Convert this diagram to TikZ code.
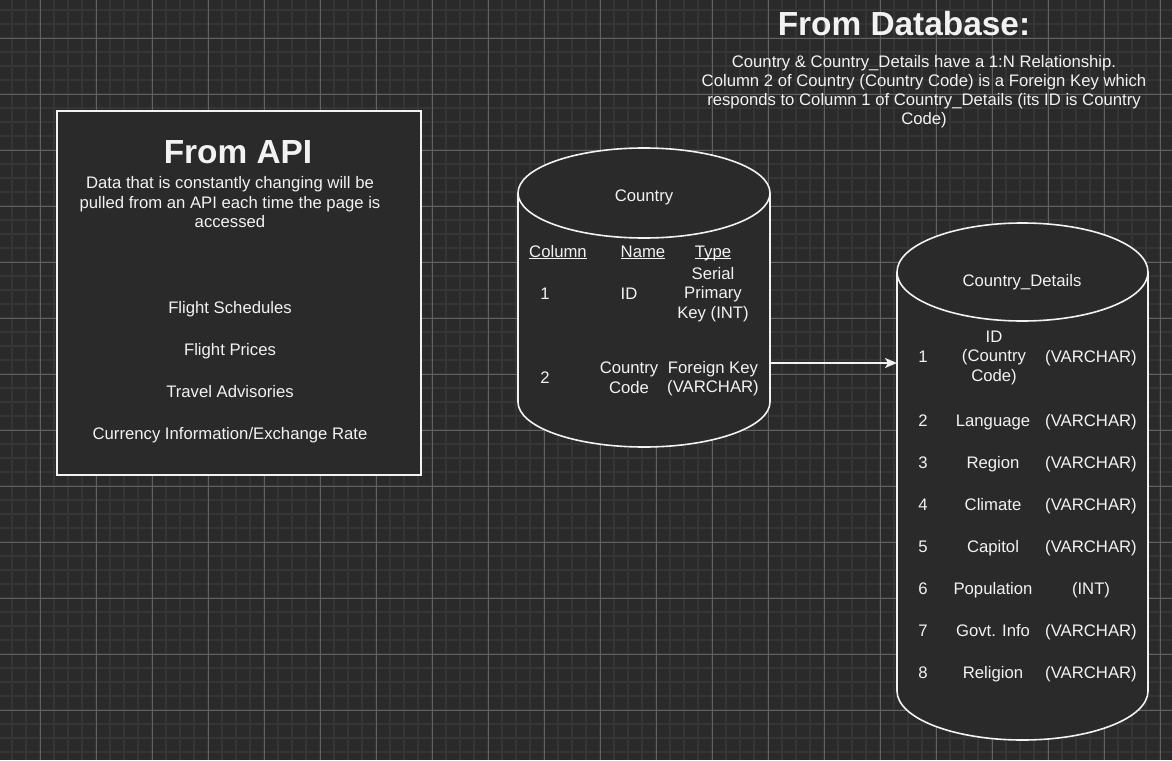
\documentclass[tikz,border=0pt]{standalone}
\usepackage{fontspec}
\setmainfont{Liberation Sans}
\usetikzlibrary{arrows.meta}
\definecolor{bg}{HTML}{2A2A2A}
\definecolor{gminor}{HTML}{353535}
\definecolor{gmajor}{HTML}{626262}
\definecolor{fg}{HTML}{F2F2F2}
\newcommand\hdrul[1]{\underline{\smash{#1}}}
\begin{document}
\begin{tikzpicture}[x=1pt,y=-1pt,
  txt/.style={text=fg, font=\fontsize{16.7}{19.5}\selectfont, align=center, inner sep=0pt},
  sl/.style={txt, text height=12pt, text depth=3.5pt, yshift=-1.75pt},
  ttl/.style={text=fg, font=\bfseries\fontsize{33.4}{36}\selectfont, inner sep=0pt},
  shapeline/.style={draw=fg, line width=1.6pt, fill=bg},
  apibox/.style={draw=fg, line width=2pt, fill=bg, inner sep=0pt},
  frame/.style={inner sep=0pt, draw=none},
  arr/.style={draw=fg, line width=1.8pt, -{Stealth[length=12pt,width=10pt,inset=3pt]}},
  gmin/.style={draw=gminor, line width=1.4pt},
  gmaj/.style={draw=gmajor, line width=0.9pt}
]
\useasboundingbox (0,0) rectangle (1172,760);
\fill[bg] (0,0) rectangle (1172,760);
% grid
\foreach \i in {0,...,83} {\draw[gmin] ({12+14*\i},0) -- ({12+14*\i},760);}
\foreach \i in {0,...,54} {\draw[gmin] (0,{10+14*\i}) -- (1172,{10+14*\i});}
\foreach \i in {0,...,20} {\draw[gmaj] ({40+56*\i},0) -- ({40+56*\i},760);}
\foreach \i in {0,...,13} {\draw[gmaj] (0,{38+56*\i}) -- (1172,{38+56*\i});}

% ---------- From API box ----------
\node[apibox, minimum width=364pt, minimum height=364pt, anchor=north west] (api) at (56,110) {};
\node[ttl, anchor=base] (apititle) at (238,163) {From API};
\node[txt] (apidesc) at (230,202.5) {Data that is constantly changing will be\\pulled from an API each time the page is\\accessed};
\node[sl] (api1) at (230,307) {Flight Schedules};
\node[sl] (api2) at (230,349) {Flight Prices};
\node[sl] (api3) at (230,391) {Travel Advisories};
\node[sl] (api4) at (230,433) {Currency Information/Exchange Rate};

% ---------- From Database title ----------
\node[ttl, anchor=base] (dbtitle) at (904,36) {From Database:};
\node[txt, font=\fontsize{16.7}{19}\selectfont] (dbdesc) at (924,92) {Country \& Country\_Details have a 1:N Relationship.\\Column 2 of Country (Country Code) is a Foreign Key which\\responds to Column 1 of Country\_Details (its ID is Country\\Code)};

% ---------- Country cylinder ----------
\filldraw[shapeline] (518,193) -- (518,402)
  arc[start angle=180,end angle=360,x radius=126pt,y radius=45pt] -- (770,193)
  arc[start angle=0,end angle=180,x radius=126pt,y radius=45pt] -- cycle;
\draw[shapeline, fill=none] (518,193) arc[start angle=180,end angle=360,x radius=126pt,y radius=45pt];
\node[frame, minimum width=252pt, minimum height=299pt, anchor=north west] (country) at (518,148) {};
\node[sl] (cname) at (644,195) {Country};
\node[txt, anchor=base] (chcol) at (558,257) {\hdrul{Column}};
\node[txt, anchor=base] (chname) at (643,257) {\hdrul{Name}};
\node[txt, anchor=base] (chtype) at (713,257) {\hdrul{Type}};
\node[sl] (c1col) at (545,293) {1};
\node[sl] (c1name) at (629,293) {ID};
\node[txt] (c1type) at (713,294.5) {Serial\\Primary\\Key (INT)};
\node[sl] (c2col) at (545,377) {2};
\node[txt] (c2name) at (629,377.5) {Country\\Code};
\node[txt] (c2type) at (713,378.5) {Foreign Key\\(VARCHAR)};

% ---------- Country_Details cylinder ----------
\filldraw[shapeline] (897,272) -- (897,691)
  arc[start angle=180,end angle=360,x radius=125.5pt,y radius=49pt] -- (1148,272)
  arc[start angle=0,end angle=180,x radius=125.5pt,y radius=49pt] -- cycle;
\draw[shapeline, fill=none] (897,272) arc[start angle=180,end angle=360,x radius=125.5pt,y radius=49pt];
\node[frame, minimum width=251pt, minimum height=517pt, anchor=north west] (details) at (897,223) {};
\node[sl] (dname) at (1022,280) {Country\_Details};
\node[sl] (d1col) at (923,356) {1};
\node[txt] (d1name) at (994,357.5) {ID\\(Country\\Code)};
\node[sl] (d1type) at (1091,356) {(VARCHAR)};
\node[sl] (d2col) at (923,420) {2};
\node[sl] (d2name) at (993,420) {Language};
\node[sl] (d2type) at (1091,420) {(VARCHAR)};
\node[sl] (d3col) at (923,462) {3};
\node[sl] (d3name) at (993,462) {Region};
\node[sl] (d3type) at (1091,462) {(VARCHAR)};
\node[sl] (d4col) at (923,504) {4};
\node[sl] (d4name) at (993,504) {Climate};
\node[sl] (d4type) at (1091,504) {(VARCHAR)};
\node[sl] (d5col) at (923,546) {5};
\node[sl] (d5name) at (993,546) {Capitol};
\node[sl] (d5type) at (1091,546) {(VARCHAR)};
\node[sl] (d6col) at (923,588) {6};
\node[sl] (d6name) at (993,588) {Population};
\node[sl] (d6type) at (1091,588) {(INT)};
\node[sl] (d7col) at (923,630) {7};
\node[sl] (d7name) at (993,630) {Govt. Info};
\node[sl] (d7type) at (1091,630) {(VARCHAR)};
\node[sl] (d8col) at (923,672) {8};
\node[sl] (d8name) at (993,672) {Religion};
\node[sl] (d8type) at (1091,672) {(VARCHAR)};

% ---------- connector ----------
\coordinate (fk) at (country.east |- 0,363);
\draw[arr] (fk) -- (fk -| details.west);
\end{tikzpicture}
\end{document}
